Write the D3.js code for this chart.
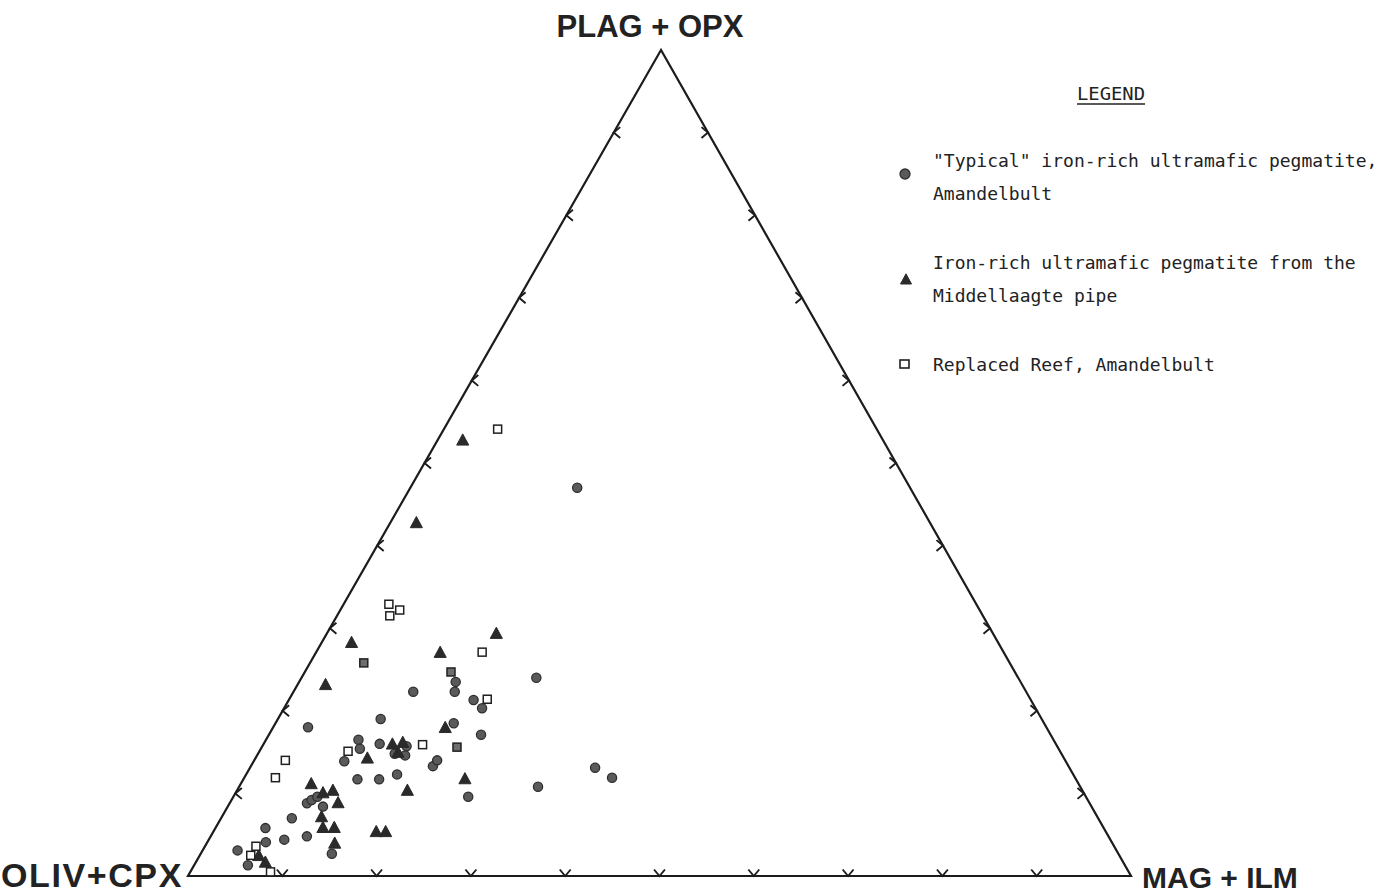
<!DOCTYPE html>
<html>
<head>
<meta charset="utf-8">
<script src="https://cdn.jsdelivr.net/npm/d3@7"></script>
<style>
  html, body { margin: 0; padding: 0; background: #ffffff; }
  svg { display: block; }
</style>
</head>
<body>
<svg id="chart" width="1396" height="896"></svg>
<script>
// Ternary compositions in percent: [PLAG+OPX, OLIV+CPX, MAG+ILM]
const apexLabels = ["PLAG + OPX", "OLIV+CPX", "MAG + ILM"];

const typicalPegmatite = [
  [47.0, 35.3, 17.7], [23.5, 59.9, 16.6], [22.3, 60.6, 17.1], [22.3, 65.0, 12.7],
  [24.0, 51.1, 24.9], [21.3, 59.1, 19.6], [20.3, 58.7, 21.0], [19.0, 70.1, 10.9],
  [18.0, 78.3, 3.7],  [18.5, 62.6, 18.9], [17.1, 60.4, 22.5], [16.5, 73.7, 9.8],
  [15.4, 74.1, 10.5], [13.9, 76.5, 9.6],  [16.0, 71.7, 12.3], [14.8, 70.7, 14.5],
  [15.7, 69.0, 15.3], [14.6, 69.7, 15.7], [13.3, 67.4, 19.3], [14.0, 66.6, 19.4],
  [11.7, 76.2, 12.1], [11.7, 73.9, 14.4], [12.3, 71.7, 16.0], [9.6, 65.5, 24.9],
  [8.8, 83.0, 8.2],   [9.2, 82.3, 8.5],   [9.6, 81.5, 8.9],   [8.4, 81.5, 10.1],
  [7.0, 85.5, 7.5],   [5.8, 88.9, 5.3],   [4.4, 87.6, 8.0],   [4.8, 85.0, 10.2],
  [2.7, 83.4, 13.9],  [4.1, 89.7, 6.2],   [3.1, 93.2, 3.7],   [1.3, 93.0, 5.7],
  [13.1, 50.3, 36.6], [11.9, 49.1, 39.0], [10.8, 57.5, 31.7]
];

const middellaagtePipe = [
  [52.7, 44.6, 2.7],  [42.7, 54.5, 2.8],  [29.3, 52.7, 18.0], [28.2, 68.6, 3.2],
  [27.0, 59.8, 13.2], [23.1, 73.9, 3.0],  [17.9, 63.8, 18.3], [14.2, 73.9, 11.9],
  [15.9, 70.4, 13.7], [16.1, 69.2, 14.7], [14.9, 70.3, 14.8], [11.7, 64.8, 23.5],
  [10.3, 71.6, 18.1], [11.1, 81.4, 7.5],  [10.0, 80.7, 9.3],  [10.3, 79.5, 10.2],
  [8.8, 79.7, 11.5],  [7.1, 82.3, 10.6],  [5.8, 82.8, 11.4],  [5.8, 81.6, 12.6],
  [5.3, 77.4, 17.3],  [5.3, 76.4, 18.3],  [3.9, 82.5, 13.6],  [2.4, 91.3, 6.3],
  [1.6, 91.0, 7.4]
];

const replacedReef = [
  [54.1, 40.2, 5.7],  [32.9, 62.3, 4.8],  [32.2, 61.5, 6.3],  [31.5, 62.9, 5.6],
  [27.1, 55.3, 17.6], [21.4, 57.6, 21.0], [15.1, 75.5, 9.4],  [15.9, 67.2, 16.9],
  [14.0, 82.7, 3.3],  [11.9, 84.8, 3.3],  [3.6, 91.0, 5.4],   [2.5, 92.1, 5.4],
  [0.5, 91.0, 8.5]
];

// shaded squares plotted without a legend entry
const shadedSquares = [
  [25.8, 68.5, 5.7], [24.7, 59.8, 15.5], [15.6, 63.7, 20.7]
];

const tickPercents = [10, 20, 30, 40, 50, 60, 70, 80, 90];

const legendTitle = "LEGEND";
const legendItems = [
  { symbol: "circle",   lines: ['"Typical" iron-rich ultramafic pegmatite,', "Amandelbult"] },
  { symbol: "triangle", lines: ["Iron-rich ultramafic pegmatite from the", "Middellaagte pipe"] },
  { symbol: "square",   lines: ["Replaced Reef, Amandelbult"] }
];

// ---- layout ----
const svg = d3.select("#chart");
const vTop = [661, 50], vLeft = [188, 876], vRight = [1131, 876];

// each component pulls the point toward its own vertex
const sx = d3.scaleLinear().domain([0, 100]).range([0, 1]);
const toXY = (d) => {
  const [p, o, m] = d.map(v => sx(v));
  const t = p + o + m;
  return [
    (p * vTop[0] + o * vLeft[0] + m * vRight[0]) / t,
    (p * vTop[1] + o * vLeft[1] + m * vRight[1]) / t
  ];
};

const ink = "#1c1c1c";

// triangle outline
svg.append("path")
  .attr("d", d3.line()([vTop, vLeft, vRight, vTop]) + "Z")
  .attr("fill", "none")
  .attr("stroke", ink)
  .attr("stroke-width", 2.2)
  .attr("stroke-linejoin", "miter");

// chevron ticks along each edge, arms turned into the triangle
const armLen = 8.5, half = 40 * Math.PI / 180;
function chevron(pt, dir) {
  const a1 = dir + half, a2 = dir - half;
  const p1 = [pt[0] + armLen * Math.cos(a1), pt[1] + armLen * Math.sin(a1)];
  const p2 = [pt[0] + armLen * Math.cos(a2), pt[1] + armLen * Math.sin(a2)];
  return d3.line()([p1, pt, p2]);
}
const tickG = svg.append("g")
  .attr("fill", "none").attr("stroke", ink).attr("stroke-width", 1.9);
tickPercents.forEach(t => {
  // left edge: PLAG+OPX vs OLIV+CPX
  tickG.append("path").attr("d", chevron(toXY([t, 100 - t, 0]), 0));
  // right edge: PLAG+OPX vs MAG+ILM
  tickG.append("path").attr("d", chevron(toXY([t, 0, 100 - t]), Math.PI));
  // base: OLIV+CPX vs MAG+ILM
  tickG.append("path").attr("d", chevron(toXY([0, 100 - t, t]), -Math.PI / 2));
});

// vertex labels
const labelFont = "'Liberation Sans', Arial, Helvetica, sans-serif";
svg.append("text").attr("x", 650).attr("y", 37)
  .attr("text-anchor", "middle").attr("font-family", labelFont)
  .attr("font-weight", "bold").attr("font-size", 31).attr("fill", "#222")
  .text(apexLabels[0]);
svg.append("text").attr("x", 1).attr("y", 887)
  .attr("font-family", labelFont).attr("letter-spacing", 1.6)
  .attr("font-weight", "bold").attr("font-size", 34).attr("fill", "#222")
  .text(apexLabels[1]);
svg.append("text").attr("x", 1142).attr("y", 888)
  .attr("font-family", labelFont)
  .attr("font-weight", "bold").attr("font-size", 30).attr("fill", "#222")
  .text(apexLabels[2]);

// ---- markers ----
const circleFill = "#5a5a5a", circleStroke = "#2e2e2e";
const triPath = (cx, cy, s) => d3.line()([[cx, cy - s * 0.62], [cx + s * 0.55, cy + s * 0.4], [cx - s * 0.55, cy + s * 0.4]]) + "Z";

function drawCircles(g, data) {
  g.selectAll("circle").data(data).join("circle")
    .attr("cx", d => toXY(d)[0]).attr("cy", d => toXY(d)[1])
    .attr("r", 4.6)
    .attr("fill", circleFill).attr("stroke", circleStroke).attr("stroke-width", 1.3);
}
function drawTriangles(g, data) {
  g.selectAll("path").data(data).join("path")
    .attr("d", d => { const [x, y] = toXY(d); return triPath(x, y, 11); })
    .attr("fill", "#2a2a2a").attr("stroke", "#2a2a2a").attr("stroke-width", 1)
    .attr("stroke-linejoin", "round");
}
function drawSquares(g, data, fill) {
  g.selectAll("rect").data(data).join("rect")
    .attr("x", d => toXY(d)[0] - 4).attr("y", d => toXY(d)[1] - 4)
    .attr("width", 8).attr("height", 8)
    .attr("fill", fill).attr("stroke", "#202020").attr("stroke-width", 1.5);
}

drawSquares(svg.append("g"), shadedSquares, "#6e6e6e");
drawCircles(svg.append("g"), typicalPegmatite);
drawTriangles(svg.append("g"), middellaagtePipe);
drawSquares(svg.append("g"), replacedReef, "#ffffff");

// ---- legend ----
const monoFont = "'DejaVu Sans Mono', 'Liberation Mono', monospace";
const legend = svg.append("g").attr("font-family", monoFont).attr("font-size", 18).attr("fill", "#222");
legend.append("text").attr("x", 1077).attr("y", 100).text(legendTitle)
  .attr("textLength", 68).attr("lengthAdjust", "spacingAndGlyphs");
legend.append("line").attr("x1", 1077).attr("x2", 1145).attr("y1", 104).attr("y2", 104)
  .attr("stroke", "#222").attr("stroke-width", 1.5);

const itemTop = [167, 269, 371];
const symbolY = [174, 280, 364];
legendItems.forEach((item, i) => {
  item.lines.forEach((line, j) => {
    legend.append("text").attr("x", 933).attr("y", itemTop[i] + j * 33).text(line);
  });
  const g = legend.append("g");
  const sx0 = 905, sy0 = symbolY[i];
  if (item.symbol === "circle") {
    g.append("circle").attr("cx", sx0).attr("cy", sy0).attr("r", 5)
      .attr("fill", circleFill).attr("stroke", circleStroke).attr("stroke-width", 1.3);
  } else if (item.symbol === "triangle") {
    g.append("path").attr("d", triPath(sx0 + 1, sy0, 10))
      .attr("fill", "#2a2a2a").attr("stroke", "#2a2a2a").attr("stroke-width", 1);
  } else {
    g.append("rect").attr("x", sx0 - 5).attr("y", sy0 - 4).attr("width", 9).attr("height", 8)
      .attr("fill", "#fff").attr("stroke", "#202020").attr("stroke-width", 1.6);
  }
});
</script>
</body>
</html>
